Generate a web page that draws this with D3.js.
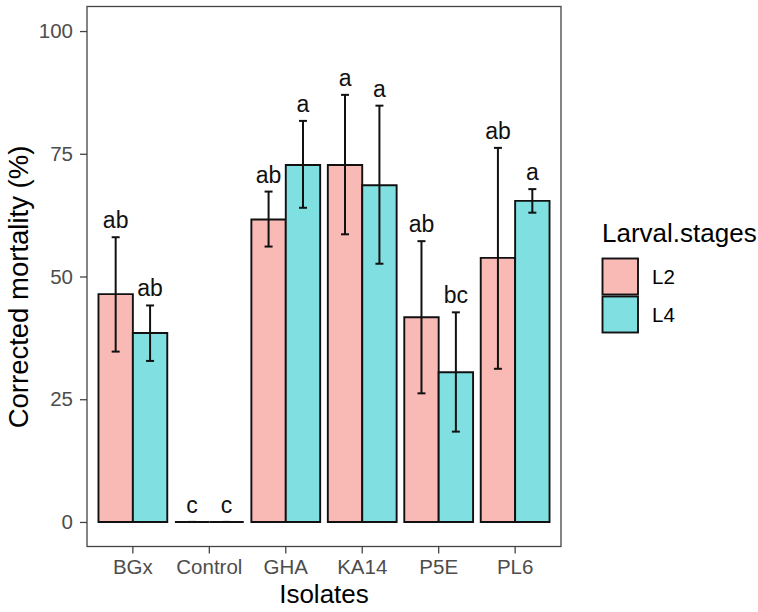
<!DOCTYPE html>
<html>
<head>
<meta charset="utf-8">
<script src="https://cdn.jsdelivr.net/npm/d3@7"></script>
<style>
  html, body { margin: 0; padding: 0; background: #ffffff; }
  svg { display: block; font-family: "Liberation Sans", Arial, sans-serif; }
</style>
</head>
<body>
<svg id="chart" width="758" height="612"></svg>
<script>
// Corrected mortality of larvae by isolate and larval stage
const isolates = ["BGx", "Control", "GHA", "KA14", "P5E", "PL6"];
const stages = ["L2", "L4"];
const stageColors = ["#F9B9B5", "#80DFE1"];

// mean corrected mortality (%) per isolate, one array per stage
const meanL2 = [46.4, 0, 61.6, 72.7, 41.7, 53.8];
const meanL4 = [38.5, 0, 72.7, 68.6, 30.5, 65.4];
// error bar extents
const lowL2 = [34.7, 0, 56.1, 58.6, 26.2, 31.2];
const highL2 = [58.0, 0, 67.3, 87.0, 57.2, 76.2];
const lowL4 = [32.8, 0, 64.0, 52.6, 18.4, 63.0];
const highL4 = [44.1, 0, 81.7, 84.8, 42.7, 67.8];
// significance letters
const lettersL2 = ["ab", "c", "ab", "a", "ab", "ab"];
const lettersL4 = ["ab", "c", "a", "a", "bc", "a"];

const yTicks = [0, 25, 50, 75, 100];

const rows = [];
isolates.forEach((iso, i) => {
  rows.push({ iso, stage: "L2", mean: meanL2[i], lo: lowL2[i], hi: highL2[i], letter: lettersL2[i] });
  rows.push({ iso, stage: "L4", mean: meanL4[i], lo: lowL4[i], hi: highL4[i], letter: lettersL4[i] });
});

const svg = d3.select("#chart");
const panel = { left: 87, right: 561, top: 6.5, bottom: 546.5 };

const x = d3.scaleBand()
  .domain(isolates)
  .range([panel.left, panel.right])
  .paddingInner(0.1)
  .paddingOuter(0.15);
const xs = d3.scaleBand().domain(stages).range([0, x.bandwidth()]);
const y = d3.scaleLinear().domain([-5, 105]).range([panel.bottom, panel.top]);
const color = d3.scaleOrdinal().domain(stages).range(stageColors);

// bars as closed paths so zero-height bars still show their outline
svg.append("g").selectAll("path")
  .data(rows)
  .join("path")
  .attr("d", d => {
    const x0 = x(d.iso) + xs(d.stage), x1 = x0 + xs.bandwidth();
    const yTop = y(d.mean), yBase = y(0);
    return `M${x0},${yBase}V${yTop}H${x1}V${yBase}Z`;
  })
  .attr("fill", d => color(d.stage))
  .attr("stroke", "#111")
  .attr("stroke-width", 1.9)
  .attr("stroke-linejoin", "miter");

// error bars
const capHalf = 4;
const eb = svg.append("g").attr("stroke", "#111").attr("stroke-width", 2).attr("fill", "none");
rows.forEach(d => {
  const cx = x(d.iso) + xs(d.stage) + xs.bandwidth() / 2;
  eb.append("line").attr("x1", cx).attr("x2", cx).attr("y1", y(d.lo)).attr("y2", y(d.hi));
  eb.append("line").attr("x1", cx - capHalf).attr("x2", cx + capHalf).attr("y1", y(d.lo)).attr("y2", y(d.lo));
  eb.append("line").attr("x1", cx - capHalf).attr("x2", cx + capHalf).attr("y1", y(d.hi)).attr("y2", y(d.hi));
});

// letters above error bars
svg.append("g").selectAll("text")
  .data(rows)
  .join("text")
  .attr("x", d => x(d.iso) + xs(d.stage) + xs.bandwidth() / 2)
  .attr("y", d => y(d.hi) - 9)
  .attr("text-anchor", "middle")
  .attr("font-size", 23)
  .attr("fill", "#111")
  .text(d => d.letter);

// panel border
svg.append("rect")
  .attr("x", panel.left).attr("y", panel.top)
  .attr("width", panel.right - panel.left).attr("height", panel.bottom - panel.top)
  .attr("fill", "none").attr("stroke", "#444").attr("stroke-width", 1.3);

// axes
const yAxis = svg.append("g")
  .attr("transform", `translate(${panel.left},0)`)
  .call(d3.axisLeft(y).tickValues(yTicks).tickSize(7).tickPadding(7));
const xAxis = svg.append("g")
  .attr("transform", `translate(0,${panel.bottom})`)
  .call(d3.axisBottom(x).tickSize(7).tickPadding(6));
[yAxis, xAxis].forEach(g => {
  g.select(".domain").remove();
  g.selectAll(".tick line").attr("stroke", "#444").attr("stroke-width", 1.3);
  g.selectAll(".tick text").attr("fill", "#4D4D4D").attr("font-size", 20.5)
    .attr("font-family", "'Liberation Sans', Arial, sans-serif");
});

// axis titles
svg.append("text")
  .attr("x", (panel.left + panel.right) / 2).attr("y", 603)
  .attr("text-anchor", "middle").attr("font-size", 26).attr("fill", "#000")
  .text("Isolates");
svg.append("text")
  .attr("transform", "translate(28,287) rotate(-90)")
  .attr("text-anchor", "middle").attr("font-size", 27.5).attr("fill", "#000")
  .text("Corrected mortality (%)");

// legend
const legend = svg.append("g").attr("transform", "translate(602,0)");
legend.append("text")
  .attr("x", 0).attr("y", 242)
  .attr("font-size", 26).attr("fill", "#000")
  .text("Larval.stages");
const keys = legend.selectAll("g.key")
  .data(stages)
  .join("g")
  .attr("class", "key")
  .attr("transform", (d, i) => `translate(0,${258.5 + i * 38})`);
keys.append("rect")
  .attr("x", 0.5).attr("y", 0)
  .attr("width", 35.5).attr("height", 36)
  .attr("fill", d => color(d))
  .attr("stroke", "#111").attr("stroke-width", 1.9);
keys.append("text")
  .attr("x", 50).attr("y", 18).attr("dy", "0.35em")
  .attr("font-size", 20.5).attr("fill", "#000")
  .text(d => d);
</script>
</body>
</html>
